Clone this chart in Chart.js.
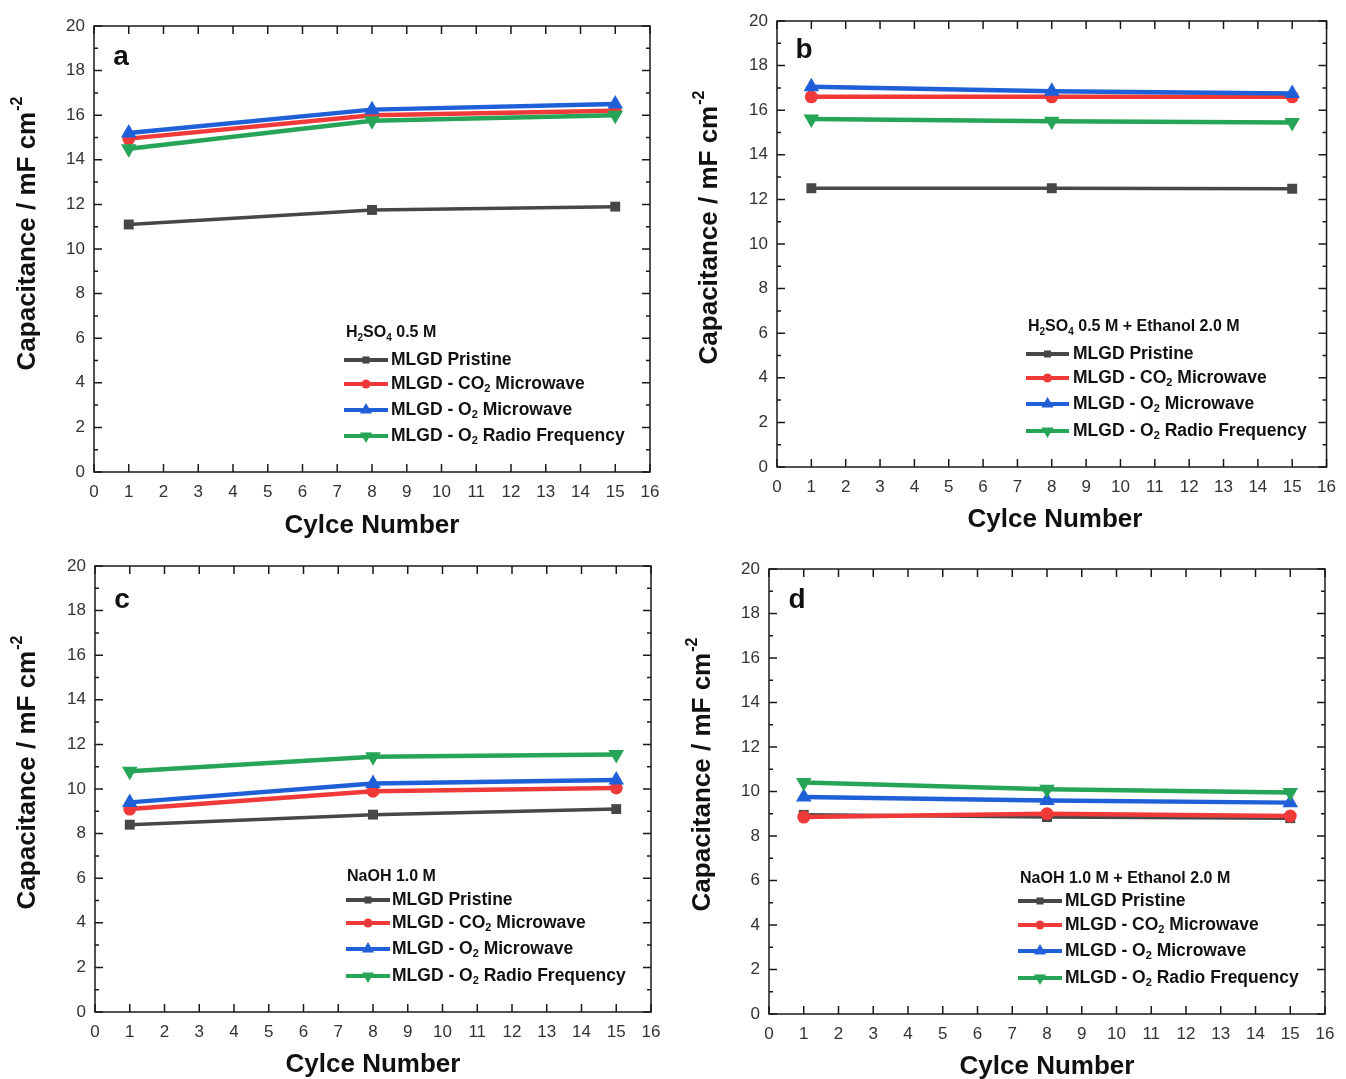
<!DOCTYPE html>
<html>
<head>
<meta charset="utf-8">
<script src="https://cdn.jsdelivr.net/npm/chart.js@4.4.0/dist/chart.umd.min.js"></script>
<style>
  body { margin: 0; background: #fff; width: 1346px; height: 1079px; overflow: hidden; position: relative; }
  canvas { position: absolute; }
</style>
</head>
<body>
<canvas id="chartA" width="673" height="540" style="left:0;top:0"></canvas>
<canvas id="chartB" width="673" height="540" style="left:673px;top:0"></canvas>
<canvas id="chartC" width="673" height="539" style="left:0;top:540px"></canvas>
<canvas id="chartD" width="673" height="539" style="left:673px;top:540px"></canvas>
<script>
const cycles = [1, 8, 15];
const seriesLabels = ['MLGD Pristine', 'MLGD - CO2 Microwave', 'MLGD - O2 Microwave', 'MLGD - O2 Radio Frequency'];

// (a) H2SO4 0.5 M
const pristineA = [11.1, 11.75, 11.9];
const co2A = [14.95, 16.0, 16.2];
const o2A = [15.2, 16.25, 16.5];
const rfA = [14.5, 15.75, 16.0];

// (b) H2SO4 0.5 M + Ethanol 2.0 M
const pristineB = [12.5, 12.5, 12.48];
const co2B = [16.6, 16.6, 16.6];
const o2B = [17.05, 16.85, 16.75];
const rfB = [15.6, 15.5, 15.45];

// (c) NaOH 1.0 M
const pristineC = [8.4, 8.85, 9.1];
const co2C = [9.1, 9.9, 10.05];
const o2C = [9.4, 10.25, 10.4];
const rfC = [10.8, 11.45, 11.55];

// (d) NaOH 1.0 M + Ethanol 2.0 M
const pristineD = [8.95, 8.85, 8.8];
const co2D = [8.85, 9.0, 8.9];
const o2D = [9.75, 9.6, 9.5];
const rfD = [10.4, 10.1, 9.95];

const colors = ['#474747', '#f03a3a', '#1f60d8', '#26a457'];
const pointStyles = ['rect', 'circle', 'triangle', 'triangle'];
const rotations = [0, 0, 0, 180];
const radii = [7, 6.5, 9, 9];

// legend text pieces, [text, isSubscript]
const legendParts = [
    [['MLGD Pristine']],
    [['MLGD - CO'], ['2', 1], [' Microwave']],
    [['MLGD - O'], ['2', 1], [' Microwave']],
    [['MLGD - O'], ['2', 1], [' Radio Frequency']]
];

const panels = [
    { id: 'chartA', letter: 'a', data: [pristineA, co2A, o2A, rfA],
      title: [['H'], ['2', 1], ['SO'], ['4', 1], [' 0.5 M']],
      area: { left: 94, right: 650, top: 26, bottom: 472 },
      yTitle: [28, 234], xTitle: [372, 526], letterPos: [121, 57],
      legend: { tx: 346, ty: 333, lx0: 344, lx1: 388, textX: 391, rows: [360, 384, 410, 436] } },
    { id: 'chartB', letter: 'b', data: [pristineB, co2B, o2B, rfB],
      title: [['H'], ['2', 1], ['SO'], ['4', 1], [' 0.5 M + Ethanol 2.0 M']],
      area: { left: 104, right: 659, top: 21, bottom: 467 },
      yTitle: [37, 228], xTitle: [382, 520], letterPos: [131, 50],
      legend: { tx: 355, ty: 327, lx0: 353, lx1: 396, textX: 400, rows: [354, 378, 404, 431] } },
    { id: 'chartC', letter: 'c', data: [pristineC, co2C, o2C, rfC],
      title: [['NaOH 1.0 M']],
      area: { left: 95, right: 651, top: 26, bottom: 472 },
      yTitle: [28, 233], xTitle: [373, 525], letterPos: [122, 60],
      legend: { tx: 347, ty: 337, lx0: 346, lx1: 390, textX: 392, rows: [360, 383, 409, 436] } },
    { id: 'chartD', letter: 'd', data: [pristineD, co2D, o2D, rfD],
      title: [['NaOH 1.0 M + Ethanol 2.0 M']],
      area: { left: 96, right: 652, top: 29, bottom: 474 },
      yTitle: [30, 235], xTitle: [374, 527], letterPos: [124, 60],
      legend: { tx: 347, ty: 339, lx0: 345, lx1: 389, textX: 392, rows: [361, 385, 411, 438] } }
];

const FONT = '"Liberation Sans", Arial, sans-serif';

// draws text with subscripts, left aligned, vertically centred on y
function drawRich(ctx, parts, x, y, size) {
    ctx.textBaseline = 'middle';
    ctx.textAlign = 'left';
    let cx = x;
    parts.forEach(([t, sub]) => {
        const s = sub ? Math.round(size * 0.62) : size;
        ctx.font = 'bold ' + s + 'px ' + FONT;
        ctx.fillText(t, cx, sub ? y + size * 0.3 : y);
        cx += ctx.measureText(t).width;
    });
}

function decorPlugin(p) {
    return {
        id: 'decor',
        afterDraw(chart) {
            const ctx = chart.ctx;
            const a = chart.chartArea;
            const xs = chart.scales.x, ys = chart.scales.y;
            ctx.save();
            ctx.strokeStyle = '#1a1a1a';
            ctx.lineWidth = 1.5;
            ctx.strokeRect(a.left, a.top, a.right - a.left, a.bottom - a.top);

            // inward ticks
            ctx.beginPath();
            for (let v = 0; v <= 16; v++) {
                const px = xs.getPixelForValue(v);
                ctx.moveTo(px, a.bottom); ctx.lineTo(px, a.bottom - 8);
                ctx.moveTo(px, a.top); ctx.lineTo(px, a.top + 8);
            }
            for (let v = 0; v <= 20; v++) {
                const py = ys.getPixelForValue(v);
                const len = v % 2 === 0 ? 8 : 4;
                ctx.moveTo(a.left, py); ctx.lineTo(a.left + len, py);
                ctx.moveTo(a.right, py); ctx.lineTo(a.right - len, py);
            }
            ctx.stroke();

            ctx.fillStyle = '#111';
            // panel letter
            ctx.font = 'bold 28px ' + FONT;
            ctx.textAlign = 'center';
            ctx.textBaseline = 'middle';
            ctx.fillText(p.letter, p.letterPos[0], p.letterPos[1]);

            // x title
            ctx.font = 'bold 26px ' + FONT;
            ctx.fillText('Cylce Number', p.xTitle[0], p.xTitle[1]);

            // y title with superscript
            ctx.save();
            ctx.translate(p.yTitle[0], p.yTitle[1]);
            ctx.rotate(-Math.PI / 2);
            ctx.font = 'bold 26px ' + FONT;
            const main = 'Capacitance / mF cm';
            const mw = ctx.measureText(main).width;
            ctx.font = 'bold 16px ' + FONT;
            const sw = ctx.measureText('-2').width;
            const start = -(mw + sw) / 2;
            ctx.textAlign = 'left';
            ctx.font = 'bold 26px ' + FONT;
            ctx.fillText(main, start, 0);
            ctx.font = 'bold 16px ' + FONT;
            ctx.fillText('-2', start + mw + 1, -10);
            ctx.restore();

            // legend
            const lg = p.legend;
            ctx.fillStyle = '#111';
            drawRich(ctx, p.title, lg.tx, lg.ty, 16);
            lg.rows.forEach((ry, i) => {
                ctx.strokeStyle = colors[i];
                ctx.lineWidth = 4;
                ctx.beginPath();
                ctx.moveTo(lg.lx0, ry); ctx.lineTo(lg.lx1, ry);
                ctx.stroke();
                ctx.fillStyle = colors[i];
                Chart.helpers.drawPoint(ctx, {
                    pointStyle: pointStyles[i], rotation: rotations[i],
                    radius: radii[i] - 2, borderWidth: 0
                }, (lg.lx0 + lg.lx1) / 2, ry);
                ctx.fillStyle = '#111';
                drawRich(ctx, legendParts[i], lg.textX, ry, 17.5);
            });
            ctx.restore();
        }
    };
}

panels.forEach(p => {
    const canvas = document.getElementById(p.id);
    const W = canvas.width, H = canvas.height;
    new Chart(canvas.getContext('2d'), {
        type: 'line',
        data: {
            datasets: p.data.map((vals, i) => ({
                label: seriesLabels[i],
                data: cycles.map((c, k) => ({ x: c, y: vals[k] })),
                borderColor: colors[i],
                backgroundColor: colors[i],
                borderWidth: i === 0 ? 3.5 : 4.5,
                pointStyle: pointStyles[i],
                rotation: rotations[i],
                pointRadius: radii[i],
                pointBorderWidth: 0,
                tension: 0,
                order: 4 - i
            }))
        },
        options: {
            responsive: false,
            animation: false,
            layout: { padding: { left: 0, top: p.area.top, right: W - p.area.right, bottom: 0 } },
            plugins: { legend: { display: false }, tooltip: { enabled: false } },
            scales: {
                x: {
                    type: 'linear', min: 0, max: 16,
                    grid: { display: false, drawTicks: false },
                    border: { display: false },
                    ticks: { stepSize: 1, padding: 10, color: '#333', font: { family: FONT, size: 17 } },
                    afterFit: (s) => { s.height = H - p.area.bottom; }
                },
                y: {
                    min: 0, max: 20,
                    grid: { display: false, drawTicks: false },
                    border: { display: false },
                    ticks: { stepSize: 2, padding: 9, color: '#333', font: { family: FONT, size: 17 } },
                    afterFit: (s) => { s.width = p.area.left; }
                }
            }
        },
        plugins: [decorPlugin(p)]
    });
});
</script>
</body>
</html>
